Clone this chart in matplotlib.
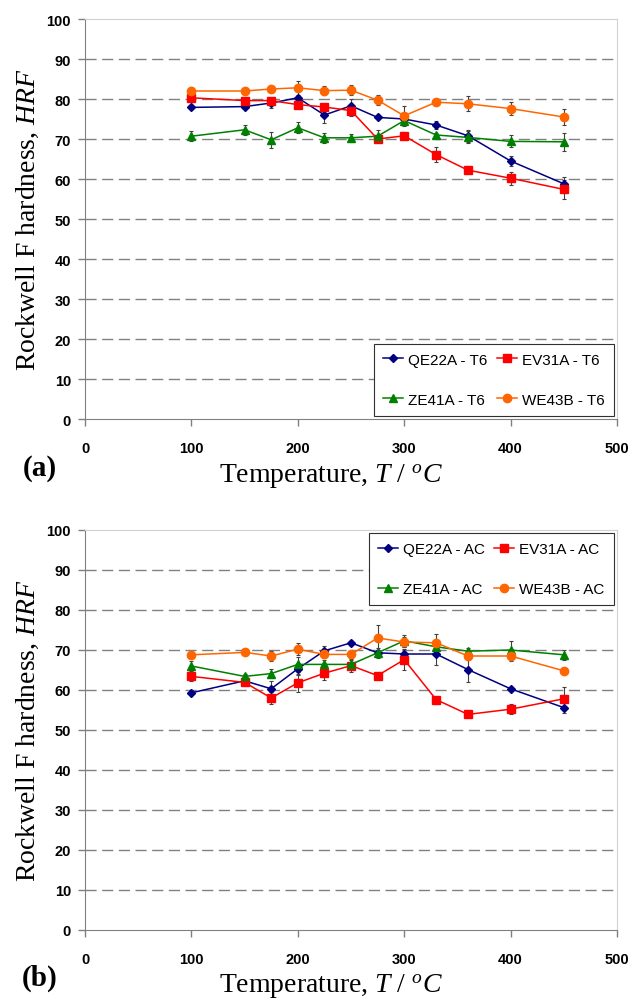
import matplotlib
matplotlib.use("Agg")
import matplotlib.pyplot as plt
from matplotlib.lines import Line2D

plt.rcParams['font.family'] = ['Liberation Sans', 'DejaVu Sans']
plt.rcParams['mathtext.fontset'] = 'custom'
plt.rcParams['mathtext.rm'] = 'Liberation Serif'
plt.rcParams['mathtext.it'] = 'Liberation Serif:italic'

temps = [100, 150, 175, 200, 225, 250, 275, 300, 330, 360, 400, 450]

# (a) T6 condition
qe22a_t6 = [77.9, 78.1, 79.0, 80.3, 76.0, 78.3, 75.4, 75.0, 73.5, 70.8, 64.5, 58.8]
ev31a_t6 = [80.3, 79.6, 79.6, 78.6, 78.0, 77.1, 70.0, 70.8, 66.1, 62.2, 60.2, 57.4]
ze41a_t6 = [70.7, 72.3, 69.8, 72.8, 70.3, 70.3, 70.7, 74.6, 71.0, 70.4, 69.4, 69.3]
we43b_t6 = [82.0, 82.0, 82.5, 82.8, 82.1, 82.2, 79.7, 75.8, 79.2, 78.8, 77.6, 75.5]
qe22a_t6_err = [0.3, 0.3, 1.2, 0.5, 1.9, 1.7, 0.3, 0.5, 1.1, 1.5, 1.2, 1.7]
ev31a_t6_err = [0.4, 0.5, 0.5, 0.8, 0.4, 1.3, 0.5, 0.5, 1.8, 0.5, 1.6, 2.3]
ze41a_t6_err = [1.2, 1.3, 2.0, 1.4, 1.3, 1.0, 1.5, 1.2, 0.5, 1.5, 1.5, 2.2]
we43b_t6_err = [1.0, 0.7, 0.7, 1.75, 1.1, 1.2, 1.2, 2.5, 0.5, 1.9, 1.7, 1.9]

# (b) as-cast condition
qe22a_ac = [59.3, 62.3, 60.3, 65.3, 69.8, 71.8, 69.3, 69.0, 69.0, 65.1, 60.3, 55.6]
ev31a_ac = [63.4, 61.9, 58.0, 61.8, 64.2, 66.1, 63.6, 67.6, 57.6, 53.9, 55.2, 57.8]
ze41a_ac = [66.0, 63.4, 64.1, 66.4, 66.4, 66.4, 69.3, 72.3, 70.8, 69.7, 70.0, 68.8]
we43b_ac = [68.8, 69.4, 68.5, 70.2, 68.9, 68.9, 73.0, 72.0, 71.8, 68.5, 68.5, 64.8]
qe22a_ac_err = [0.3, 0.5, 2.0, 1.5, 1.3, 0.5, 0.8, 0.5, 2.7, 3.0, 0.5, 1.3]
ev31a_ac_err = [1.2, 0.5, 1.6, 2.3, 1.6, 1.7, 0.5, 2.7, 0.5, 0.5, 1.2, 2.9]
ze41a_ac_err = [1.3, 0.5, 1.2, 1.8, 1.2, 1.2, 1.2, 1.5, 0.8, 0.8, 2.2, 1.2]
we43b_ac_err = [0.5, 0.5, 1.3, 1.5, 0.8, 0.8, 3.2, 1.2, 2.2, 1.0, 1.2, 0.5]

alloys = ["QE22A", "EV31A", "ZE41A", "WE43B"]
colors = ["#000080", "#FF0000", "#008000", "#FF6600"]
markers = ["D", "s", "^", "o"]
msizes = [4.5, 6.0, 6.0, 6.0]

xticks = [0, 100, 200, 300, 400, 500]
yticks = [0, 10, 20, 30, 40, 50, 60, 70, 80, 90, 100]

W, H = 632, 1004
fig = plt.figure(figsize=(W / 100, H / 100), dpi=100)

def ax_rect(x0, y0, x1, y1):
    return [x0 / W, 1 - y1 / H, (x1 - x0) / W, (y1 - y0) / H]

panels = [
    (ax_rect(85, 20, 617, 420), [qe22a_t6, ev31a_t6, ze41a_t6, we43b_t6],
     [qe22a_t6_err, ev31a_t6_err, ze41a_t6_err, we43b_t6_err], "T6", "lower right", "(a)", 468),
    (ax_rect(85, 531, 617, 931), [qe22a_ac, ev31a_ac, ze41a_ac, we43b_ac],
     [qe22a_ac_err, ev31a_ac_err, ze41a_ac_err, we43b_ac_err], "AC", "upper right", "(b)", 978),
]

for rect, series, errs, cond, loc, tag, tag_y in panels:
    ax = fig.add_axes(rect)
    handles = []
    for name, vals, err, c, m, ms in zip(alloys, series, errs, colors, markers, msizes):
        ax.errorbar(temps, vals, yerr=err, fmt='none', ecolor="#404040",
                    elinewidth=0.8, capsize=1.6, capthick=0.8, zorder=2)
        line, = ax.plot(temps, vals, color=c, marker=m, markersize=ms,
                        linewidth=1.1, label=f"{name} - {cond}", zorder=3)
        handles.append(line)
    ax.set_xlim(0, 500)
    ax.set_ylim(0, 100)
    ax.set_xticks(xticks)
    ax.set_yticks(yticks)
    ax.tick_params(axis='both', direction='out', length=5, width=1, color="#808080",
                   labelsize=10.5)
    ax.tick_params(axis='x', pad=11)
    ax.tick_params(axis='y', pad=5)
    for lbl in ax.get_xticklabels() + ax.get_yticklabels():
        lbl.set_fontweight('bold')
    for gy in yticks[1:-1]:
        ax.axhline(gy, color="#808080", linewidth=1.0, linestyle=(0, (8, 4)), zorder=1)
    ax.spines['left'].set_color("#808080")
    ax.spines['bottom'].set_color("#808080")
    ax.spines['top'].set_color("#d0d0d0")
    ax.spines['right'].set_color("#d0d0d0")
    ax.set_ylabel("Rockwell F hardness, $HRF$", family="Liberation Serif", fontsize=20, labelpad=4)
    order = [0, 2, 1, 3]
    leg = ax.legend([handles[i] for i in order], [handles[i].get_label() for i in order],
                    loc=loc, ncol=2, fontsize=11, frameon=True, fancybox=False,
                    edgecolor="#303030", framealpha=1, labelspacing=1.7, handlelength=1.3,
                    handletextpad=0.35, columnspacing=0.6, borderaxespad=0.2,
                    borderpad=0.6)
    leg.get_frame().set_linewidth(0.8)
    fig.text(40 / W, 1 - tag_y / H, tag, family="Liberation Serif", fontweight="bold",
             fontsize=21, ha="center", va="center")
    fig.text(331 / W, 1 - (tag_y + 9) / H, "Temperature, $T$ / $^{o}C$",
             family="Liberation Serif", fontsize=20, ha="center", va="center")

fig.savefig("out.png", dpi=100)
